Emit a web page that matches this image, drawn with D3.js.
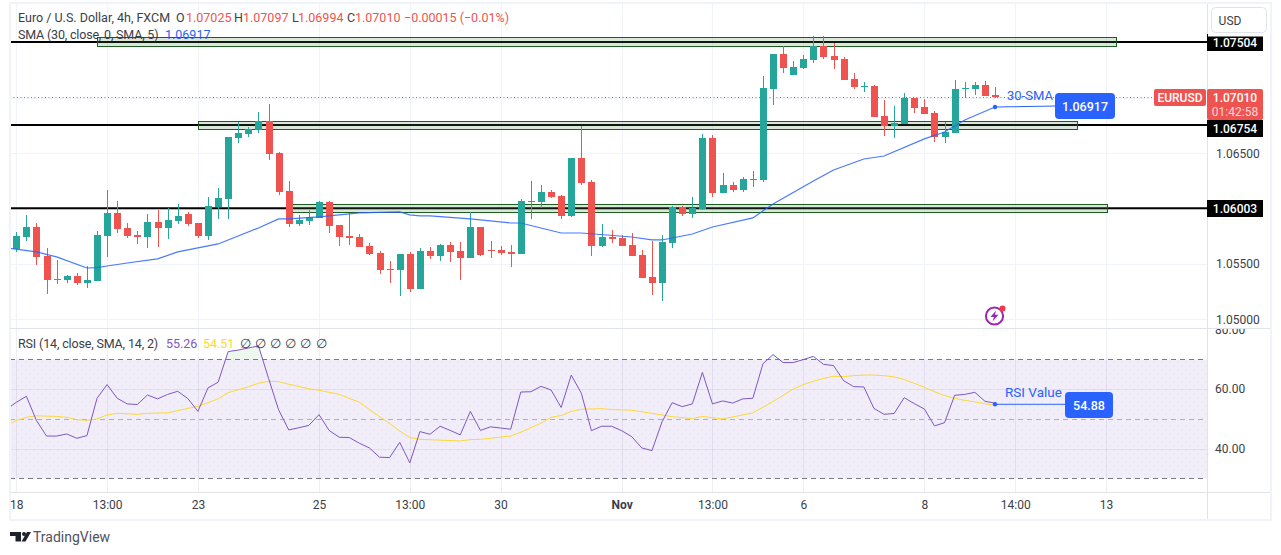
<!DOCTYPE html>
<html>
<head>
<meta charset="utf-8">
<script src="https://cdn.jsdelivr.net/npm/d3@7"></script>
<style>
  html, body { margin: 0; padding: 0; background: #fff; overflow: hidden; }
  svg { display: block; }
  text { font-family: Roboto, "Open Sans", sans-serif; }
  .axis text { font-size: 12px; fill: #3a3e49; }
  .legend { font-size: 12.5px; fill: #3a3e49; }
</style>
</head>
<body>
<svg id="chart" width="1281" height="555"></svg>
<script>
// bar index 0 is the first whole 4h candle on screen
const opens = [1.05636,1.05744,1.05834,1.05573,1.05365,1.05356,1.05392,1.05329,1.05347,1.05753,1.05961,1.05825,1.05762,1.05744,1.05879,1.05825,1.05888,1.05952,1.05870,1.05753,1.06015,1.06087,1.06638,1.06674,1.06710,1.06791,1.06502,1.06159,1.05861,1.05888,1.05916,1.06060,1.05852,1.05753,1.05744,1.05663,1.05600,1.05455,1.05446,1.05591,1.05275,1.05618,1.05573,1.05672,1.05618,1.05555,1.05834,1.05627,1.05627,1.05609,1.05591,1.06060,1.06060,1.06150,1.06114,1.05934,1.06457,1.06240,1.05663,1.05744,1.05735,1.05672,1.05582,1.05383,1.05329,1.05690,1.06015,1.05952,1.05997,1.06638,1.06141,1.06213,1.06168,1.06258,1.06258,1.07080,1.07396,1.07206,1.07269,1.07342,1.07468,1.07378,1.07351,1.07170,1.07098,1.07107,1.06836,1.06746,1.06764,1.06999,1.06917,1.06863,1.06647,1.06683,1.07080,1.07080,1.07116,1.07025];
const highs = [1.05789,1.05943,1.05870,1.05645,1.05536,1.05401,1.05419,1.05482,1.05798,1.06168,1.06069,1.05870,1.05798,1.05952,1.05988,1.06006,1.06042,1.05970,1.05870,1.06105,1.06186,1.06647,1.06782,1.06737,1.06872,1.06944,1.06511,1.06249,1.05943,1.05988,1.06069,1.06069,1.05852,1.05961,1.05771,1.05690,1.05618,1.05527,1.05591,1.05609,1.05645,1.05654,1.05681,1.05699,1.05699,1.05970,1.05834,1.05708,1.05663,1.05672,1.06087,1.06249,1.06213,1.06168,1.06123,1.06457,1.06746,1.06258,1.05861,1.05807,1.05762,1.05780,1.05627,1.05708,1.05762,1.06024,1.06024,1.06105,1.06674,1.06665,1.06322,1.06240,1.06286,1.06340,1.07197,1.07396,1.07468,1.07332,1.07387,1.07558,1.07558,1.07495,1.07369,1.07224,1.07143,1.07116,1.06980,1.06926,1.07044,1.06999,1.06990,1.06881,1.06782,1.07161,1.07143,1.07143,1.07152,1.07097];
const lows = [1.05609,1.05708,1.05491,1.05230,1.05320,1.05329,1.05311,1.05284,1.05347,1.05564,1.05780,1.05735,1.05681,1.05645,1.05654,1.05726,1.05861,1.05843,1.05735,1.05717,1.05907,1.05907,1.06592,1.06647,1.06683,1.06439,1.06123,1.05834,1.05843,1.05852,1.05916,1.05780,1.05663,1.05672,1.05654,1.05582,1.05410,1.05329,1.05212,1.05248,1.05275,1.05546,1.05527,1.05518,1.05356,1.05555,1.05573,1.05555,1.05582,1.05473,1.05591,1.05907,1.06006,1.06096,1.05907,1.05925,1.06213,1.05573,1.05654,1.05690,1.05663,1.05573,1.05374,1.05221,1.05166,1.05645,1.05934,1.05916,1.05988,1.06105,1.06141,1.06150,1.06150,1.06195,1.06240,1.06935,1.07224,1.07206,1.07260,1.07314,1.07351,1.07260,1.07161,1.07080,1.07053,1.06827,1.06656,1.06638,1.06764,1.06863,1.06854,1.06601,1.06592,1.06683,1.06999,1.07026,1.07017,1.06994];
const closes = [1.05753,1.05834,1.05564,1.05356,1.05356,1.05392,1.05329,1.05356,1.05762,1.05961,1.05816,1.05753,1.05744,1.05879,1.05825,1.05897,1.05934,1.05861,1.05753,1.06024,1.06096,1.06647,1.06683,1.06719,1.06791,1.06493,1.06150,1.05861,1.05897,1.05925,1.06060,1.05843,1.05744,1.05735,1.05654,1.05591,1.05446,1.05446,1.05591,1.05275,1.05618,1.05573,1.05672,1.05609,1.05555,1.05834,1.05582,1.05618,1.05600,1.05591,1.06069,1.06069,1.06150,1.06105,1.05934,1.06457,1.06231,1.05663,1.05744,1.05726,1.05663,1.05573,1.05374,1.05329,1.05699,1.06015,1.05952,1.06006,1.06638,1.06141,1.06213,1.06168,1.06268,1.06268,1.07089,1.07396,1.07269,1.07278,1.07351,1.07468,1.07369,1.07342,1.07161,1.07098,1.07107,1.06827,1.06746,1.06773,1.06999,1.06908,1.06854,1.06647,1.06692,1.07080,1.07089,1.07116,1.07017,1.07010];

const smaBars = [-1,2,4,7,8,9,11,14,16,20,24,26,27,30,34,38,39,40,41,45,49,50,54,56,61,63,64,67,69,73,75,79,81,84,86,90,92,94,97];
const smaValues = [1.05645,1.05609,1.05564,1.05464,1.05467,1.05482,1.05509,1.05546,1.05609,1.05681,1.05825,1.05907,1.05907,1.05925,1.05961,1.05970,1.05943,1.05934,1.05934,1.05907,1.05870,1.05870,1.05780,1.05780,1.05744,1.05717,1.05717,1.05771,1.05834,1.05916,1.06042,1.06249,1.06349,1.06448,1.06475,1.06629,1.06692,1.06800,1.06917];

// rsi starts one bar before the first candle, the left edge cuts it
const rsiValues = [53.1,55.55,57.56,49.4,44.2,44.2,44.9,43.45,44.34,56.9,61.5,56.9,55.0,54.8,58.0,56.7,58.2,59.25,56.8,52.5,60.4,62.3,72.6,73.1,73.8,74.5,63.6,53.0,46.25,47.0,47.8,51.4,46.1,43.8,43.7,41.8,40.2,37.1,36.95,42.1,35.2,45.7,44.8,47.5,46.1,44.6,52.5,46.1,47.3,46.9,46.5,59.0,59.1,60.9,59.7,53.8,64.7,58.6,46.0,47.5,47.5,46.0,44.0,40.2,39.3,49.0,55.4,54.1,55.0,65.6,55.0,56.0,55.3,56.7,56.9,68.5,71.6,68.9,68.9,69.9,71.0,68.3,67.9,62.8,60.8,60.7,53.5,51.5,51.8,57.1,55.1,53.3,47.6,48.7,57.9,58.2,58.9,55.9,55.26];
const rsiMaBars = [-1,0,1,2,4,5,6,7,8,9,10,12,13,15,16,17,18,19,20,21,22,23,24,25,26,27,29,30,32,34,35,37,38,39,40,44,45,46,49,50,52,53,54,55,56,58,59,61,64,65,67,68,70,72,73,74,75,76,77,78,79,80,81,82,83,84,85,86,87,88,89,90,91,92,93,94,95,96,97];
const rsiMaValues = [47.8,49.4,50.5,51.0,50.8,50.5,49.7,49.5,49.95,51.3,51.85,51.5,51.85,52.0,52.75,53.5,54.2,55.4,56.7,58.8,59.8,60.7,62.0,62.6,62.5,61.6,60.1,59.6,58.2,55.55,53.1,48.4,45.9,43.7,43.1,42.55,43.0,43.1,44.2,45.5,48.5,50.5,51.1,52.5,53.2,53.4,53.1,52.9,51.3,50.7,50.1,50.8,49.95,51.3,52.0,53.9,55.8,57.9,60.0,61.5,62.6,63.6,64.3,64.2,64.5,64.7,64.7,64.5,64.1,63.2,61.9,60.6,59.1,57.8,56.9,56.2,55.7,55.1,54.51];

const levels = [1.07504, 1.06754, 1.06003];
const zoneTops = [1.07546, 1.06788, 1.06042];
const zoneBottoms = [1.07465, 1.06722, 1.05970];
const zoneStarts = [8.03, 18.04, 27.3];
const zoneEnds = [109.04, 105.08, 108.07];

const gridPrices = [1.075, 1.07, 1.065, 1.06, 1.055, 1.05];
const labelPrices = [1.065, 1.055, 1.05];
const rsiLabels = [80, 60, 40];
const rsiGrid = [60, 40];
const timeTicks = [0, 9, 18, 30, 39, 48, 60, 69, 78, 90, 99, 108];
const timeLabels = ['18', '13:00', '23', '25', '13:00', '30', 'Nov', '13:00', '6', '8', '14:00', '13'];

const lastPrice = 1.0701;
const lastSma = 1.06917;
const lastRsi = 54.88;

const GREEN = '#26a69a', RED = '#ef5350', BLUE = '#2962ff', PURPLE = '#7e57c2', YELLOW = '#fdd835';
const GRID = '#f0f3fa', EDGE = '#e0e3eb';
const paneLeft = 10, paneRight = 1207, paneTop = 4, paneBottom = 328, axisTop = 492;

const svg = d3.select('#chart');
const x = d3.scaleLinear().domain([0, 108]).range([16.3, 1106]);
const y = d3.scaleLinear().domain([1.075, 1.05]).range([42.44, 319.4]);
const yRsi = d3.scaleLinear().domain([70, 30]).range([359.3, 478.3]);
const crisp = v => Math.round(v) + 0.5;
const up = i => closes[i] >= opens[i];

const defs = svg.append('defs');
defs.append('clipPath').attr('id', 'mainClip').append('rect')
  .attr('x', paneLeft).attr('y', paneTop).attr('width', paneRight - paneLeft).attr('height', paneBottom - paneTop);
defs.append('clipPath').attr('id', 'rsiClip').append('rect')
  .attr('x', paneLeft).attr('y', paneBottom + 1).attr('width', paneRight - paneLeft).attr('height', axisTop - paneBottom - 1);
defs.append('clipPath').attr('id', 'rsiAxisClip').append('rect')
  .attr('x', paneRight).attr('y', paneBottom + 1).attr('width', 70).attr('height', axisTop - paneBottom - 1);
defs.append('clipPath').attr('id', 'aboveBand').append('rect')
  .attr('x', paneLeft).attr('y', paneBottom + 1).attr('width', paneRight - paneLeft).attr('height', yRsi(70) - paneBottom - 1);
const dots = defs.append('pattern').attr('id', 'bandDots')
  .attr('patternUnits', 'userSpaceOnUse').attr('width', 8).attr('height', 8);
dots.append('circle').attr('cx', 2).attr('cy', 2).attr('r', 0.5).attr('fill', 'rgba(126,87,194,.22)');
dots.append('circle').attr('cx', 6).attr('cy', 6).attr('r', 0.5).attr('fill', 'rgba(126,87,194,.22)');

// main pane grid
const main = svg.append('g').attr('clip-path', 'url(#mainClip)');
main.selectAll('.hgrid').data(gridPrices).enter().append('line')
  .attr('x1', paneLeft).attr('x2', paneRight)
  .attr('y1', d => crisp(y(d))).attr('y2', d => crisp(y(d)))
  .attr('stroke', GRID);
main.selectAll('.vgrid').data(timeTicks).enter().append('line')
  .attr('x1', d => crisp(x(d))).attr('x2', d => crisp(x(d)))
  .attr('y1', paneTop).attr('y2', paneBottom)
  .attr('stroke', GRID);

// levels and zones
main.selectAll('.level').data(levels).enter().append('line')
  .attr('x1', paneLeft).attr('x2', paneRight)
  .attr('y1', d => y(d)).attr('y2', d => y(d))
  .attr('stroke', '#000').attr('stroke-width', 2);
main.selectAll('.zone').data(zoneTops).enter().append('rect')
  .attr('x', (d, i) => crisp(x(zoneStarts[i])))
  .attr('width', (d, i) => Math.round(x(zoneEnds[i])) - Math.round(x(zoneStarts[i])))
  .attr('y', d => crisp(y(d)))
  .attr('height', (d, i) => Math.round(y(zoneBottoms[i])) - Math.round(y(d)))
  .attr('fill', 'rgba(76,130,70,.2)')
  .attr('stroke', '#1b5e20');

// current price dotted line
main.append('line')
  .attr('x1', paneLeft).attr('x2', 1154)
  .attr('y1', crisp(y(lastPrice))).attr('y2', crisp(y(lastPrice)))
  .attr('stroke', RED).attr('stroke-dasharray', '1,2.5');

// candles
const candle = main.selectAll('.candle').data(opens).enter().append('g');
candle.append('rect')
  .attr('x', (d, i) => Math.round(x(i)))
  .attr('width', 1)
  .attr('y', (d, i) => Math.round(y(highs[i])))
  .attr('height', (d, i) => Math.round(y(lows[i])) - Math.round(y(highs[i])))
  .attr('fill', (d, i) => up(i) ? GREEN : RED);
candle.append('rect')
  .attr('x', (d, i) => Math.round(x(i)) - 3)
  .attr('width', 7)
  .attr('y', (d, i) => Math.round(y(Math.max(opens[i], closes[i]))))
  .attr('height', (d, i) => Math.max(1, Math.round(y(Math.min(opens[i], closes[i]))) - Math.round(y(Math.max(opens[i], closes[i])))))
  .attr('fill', (d, i) => up(i) ? GREEN : RED);

// sma
const smaLine = d3.line().x(d => x(d[0])).y(d => y(d[1]));
main.append('path')
  .datum(d3.zip(smaBars, smaValues))
  .attr('d', smaLine)
  .attr('fill', 'none')
  .attr('stroke', BLUE).attr('stroke-opacity', 0.85).attr('stroke-width', 1.2);

// sma callout
const smaEnd = [x(97), y(lastSma)];
svg.append('line')
  .attr('x1', smaEnd[0]).attr('y1', smaEnd[1])
  .attr('x2', 1056).attr('y2', smaEnd[1] - 1)
  .attr('stroke', BLUE).attr('stroke-width', 1);
svg.append('circle').attr('cx', smaEnd[0]).attr('cy', smaEnd[1]).attr('r', 2.2).attr('fill', BLUE);
svg.append('text').attr('x', 1007).attr('y', 99.5)
  .attr('font-size', 13).attr('fill', BLUE).text('30-SMA');
svg.append('rect').attr('x', 1055).attr('y', 93).attr('width', 60).attr('height', 26).attr('rx', 4).attr('fill', BLUE);
svg.append('text').attr('x', 1085).attr('y', 110.5)
  .attr('font-size', 12.5).attr('font-weight', 500).attr('text-anchor', 'middle').attr('fill', '#fff')
  .text(d3.format('.5f')(lastSma));

// news icon
svg.append('circle').attr('cx', 994.5).attr('cy', 316).attr('r', 8.6)
  .attr('fill', '#fff').attr('stroke', '#9c27b0').attr('stroke-width', 2);
svg.append('path').attr('d', 'M996 310.5 L990.5 317 L994 317 L992.5 321.5 L998.5 314.8 L995 314.8 Z').attr('fill', '#9c27b0');
svg.append('circle').attr('cx', 1002.5).attr('cy', 308.5).attr('r', 3).attr('fill', '#f23645');

// rsi pane
const rsi = svg.append('g').attr('clip-path', 'url(#rsiClip)');
rsi.append('rect')
  .attr('x', paneLeft).attr('width', paneRight - paneLeft)
  .attr('y', yRsi(70)).attr('height', yRsi(30) - yRsi(70))
  .attr('fill', 'rgba(126,87,194,.1)');
rsi.append('rect')
  .attr('x', paneLeft).attr('width', paneRight - paneLeft)
  .attr('y', yRsi(70)).attr('height', yRsi(30) - yRsi(70))
  .attr('fill', 'url(#bandDots)');
rsi.selectAll('.hgrid').data(rsiGrid).enter().append('line')
  .attr('x1', paneLeft).attr('x2', paneRight)
  .attr('y1', d => crisp(yRsi(d))).attr('y2', d => crisp(yRsi(d)))
  .attr('stroke', 'rgba(126,87,194,.12)');
rsi.selectAll('.vgrid').data(timeTicks).enter().append('line')
  .attr('x1', d => crisp(x(d))).attr('x2', d => crisp(x(d)))
  .attr('y1', paneBottom + 1).attr('y2', axisTop)
  .attr('stroke', 'rgba(100,90,150,.1)');
rsi.selectAll('.band').data([70, 50, 30]).enter().append('line')
  .attr('x1', paneLeft).attr('x2', paneRight)
  .attr('y1', d => crisp(yRsi(d))).attr('y2', d => crisp(yRsi(d)))
  .attr('stroke', d => d === 50 ? 'rgba(120,123,134,.55)' : '#787b86')
  .attr('stroke-dasharray', '5,4');

const rsiPoints = rsiValues.map((v, i) => [i - 1, v]);
rsi.append('path')
  .datum(rsiPoints)
  .attr('clip-path', 'url(#aboveBand)')
  .attr('d', d3.area().x(d => x(d[0])).y0(yRsi(70)).y1(d => yRsi(d[1])))
  .attr('fill', 'rgba(76,175,80,.1)');
rsi.append('path')
  .datum(d3.zip(rsiMaBars, rsiMaValues))
  .attr('d', d3.line().x(d => x(d[0])).y(d => yRsi(d[1])))
  .attr('fill', 'none').attr('stroke', YELLOW).attr('stroke-width', 1);
rsi.append('path')
  .datum(rsiPoints)
  .attr('d', d3.line().x(d => x(d[0])).y(d => yRsi(d[1])))
  .attr('fill', 'none').attr('stroke', PURPLE).attr('stroke-width', 1);

// rsi callout
const rsiEnd = [x(97), yRsi(lastRsi)];
svg.append('line')
  .attr('x1', rsiEnd[0]).attr('y1', rsiEnd[1])
  .attr('x2', 1066).attr('y2', rsiEnd[1])
  .attr('stroke', BLUE).attr('stroke-width', 1);
svg.append('circle').attr('cx', rsiEnd[0]).attr('cy', rsiEnd[1]).attr('r', 2.2).attr('fill', BLUE);
svg.append('text').attr('x', 1005).attr('y', 397)
  .attr('font-size', 13.5).attr('fill', BLUE).text('RSI Value');
svg.append('rect').attr('x', 1065).attr('y', 392).attr('width', 48).attr('height', 26).attr('rx', 4).attr('fill', BLUE);
svg.append('text').attr('x', 1089).attr('y', 409.5)
  .attr('font-size', 12.5).attr('font-weight', 500).attr('text-anchor', 'middle').attr('fill', '#fff')
  .text(lastRsi);

// frame
svg.append('rect').attr('x', 10).attr('y', 3).attr('width', 1261).attr('height', 517)
  .attr('fill', 'none').attr('stroke', GRID).attr('stroke-width', 2);
svg.append('line').attr('x1', crisp(paneRight)).attr('x2', crisp(paneRight)).attr('y1', 4).attr('y2', 519).attr('stroke', EDGE);
svg.append('line').attr('x1', 10).attr('x2', 1270).attr('y1', crisp(paneBottom)).attr('y2', crisp(paneBottom)).attr('stroke', EDGE);
svg.append('line').attr('x1', 10).attr('x2', 1270).attr('y1', crisp(axisTop)).attr('y2', crisp(axisTop)).attr('stroke', EDGE);

// axes
const priceAxis = d3.axisRight(y).tickValues(labelPrices).tickFormat(d3.format('.5f')).tickSize(0).tickPadding(9);
svg.append('g').attr('class', 'axis').attr('transform', `translate(${paneRight},0)`).call(priceAxis).select('.domain').remove();

const rsiAxis = d3.axisRight(d3.scaleLinear().domain([70, 30]).range([359.3, 478.3]))
  .tickValues(rsiLabels).tickFormat(d3.format('.2f')).tickSize(0).tickPadding(8);
svg.append('g').attr('clip-path', 'url(#rsiAxisClip)').append('g').attr('class', 'axis')
  .attr('transform', `translate(${paneRight},0)`).call(rsiAxis).select('.domain').remove();

const timeAxis = d3.axisBottom(x).tickValues(timeTicks).tickFormat((d, i) => timeLabels[i]).tickSize(0).tickPadding(8);
const timeG = svg.append('g').attr('class', 'axis').attr('transform', `translate(0,${axisTop})`).call(timeAxis);
timeG.select('.domain').remove();
timeG.selectAll('text').attr('font-weight', (d, i) => timeLabels[i] === 'Nov' ? 700 : null);

// level tags, the middle one gets pushed down by the red price tag
const tagCenters = [42.5, 128.5, 208.5];
svg.selectAll('.tag').data(levels).enter().append('rect')
  .attr('x', paneRight).attr('width', 56)
  .attr('y', (d, i) => tagCenters[i] - 8.5).attr('height', 17)
  .attr('fill', '#000');
svg.selectAll('.tagText').data(levels).enter().append('text')
  .attr('x', 1235).attr('y', (d, i) => tagCenters[i] + 4.5)
  .attr('text-anchor', 'middle').attr('font-size', 12).attr('font-weight', 500).attr('fill', '#fff')
  .text(d => d3.format('.5f')(d));

// last price tag
svg.append('rect').attr('x', paneRight).attr('y', 89).attr('width', 56).attr('height', 31).attr('rx', 2).attr('fill', RED);
svg.append('text').attr('x', 1235).attr('y', 102).attr('text-anchor', 'middle')
  .attr('font-size', 12).attr('font-weight', 500).attr('fill', '#fff').text(d3.format('.5f')(lastPrice));
svg.append('text').attr('x', 1235).attr('y', 115.5).attr('text-anchor', 'middle')
  .attr('font-size', 12).attr('fill', 'rgba(255,255,255,.78)').text('01:42:58');
svg.append('rect').attr('x', 1154).attr('y', 89).attr('width', 52).attr('height', 17).attr('rx', 2).attr('fill', RED);
svg.append('text').attr('x', 1180).attr('y', 102).attr('text-anchor', 'middle')
  .attr('font-size', 12).attr('font-weight', 500).attr('fill', '#fff').text('EURUSD');

// currency button
svg.append('rect').attr('x', 1208).attr('y', 4).attr('width', 62).attr('height', 32.5).attr('fill', '#fff');
svg.append('rect').attr('x', 1211.5).attr('y', 7.5).attr('width', 55).attr('height', 25).attr('rx', 4)
  .attr('fill', '#fff').attr('stroke', EDGE);
svg.append('text').attr('x', 1230).attr('y', 24.5).attr('text-anchor', 'middle')
  .attr('font-size', 12).attr('fill', '#3a3e49').text('USD');

// legends
function legend(baseline, parts) {
  const g = svg.append('g');
  parts.forEach(p => {
    g.append('text').attr('class', 'legend').attr('x', p[0]).attr('y', baseline)
      .style('fill', p[2] || null)
      .style('letter-spacing', p[3] || null)
      .text(p[1]);
  });
}
legend(22, [
  [18, 'Euro / U.S. Dollar, 4h, FXCM'],
  [176, 'O'], [186, '1.07025', RED],
  [234, 'H'], [243, '1.07097', RED],
  [292, 'L'], [298, '1.06994', RED],
  [347, 'C'], [355, '1.07010', RED],
  [404, '\u22120.00015 (\u22120.01%)', RED],
]);
legend(38.5, [
  [18, 'SMA (30, close, 0, SMA, 5)', null, '-0.18px'],
  [165, '1.06917', BLUE],
]);
legend(348, [
  [18, 'RSI (14, close, SMA, 14, 2)', null, '-0.15px'],
  [166, '55.26', PURPLE],
  [203, '54.51', YELLOW],
  [240, '\u2205'], [255, '\u2205'], [270, '\u2205'], [285, '\u2205'], [300, '\u2205'], [316, '\u2205'],
]);

// footer logo
svg.append('path').attr('d', 'M10 532 H21 V541.5 H15.5 V536 H10 Z').attr('fill', '#1e222d');
svg.append('circle').attr('cx', 24).attr('cy', 534).attr('r', 2).attr('fill', '#1e222d');
svg.append('path').attr('d', 'M27 532 H31 L25.5 541.5 H21.5 Z').attr('fill', '#1e222d');
svg.append('text').attr('x', 33).attr('y', 542).attr('font-size', 14).attr('fill', '#50535e').text('TradingView');
</script>
</body>
</html>
